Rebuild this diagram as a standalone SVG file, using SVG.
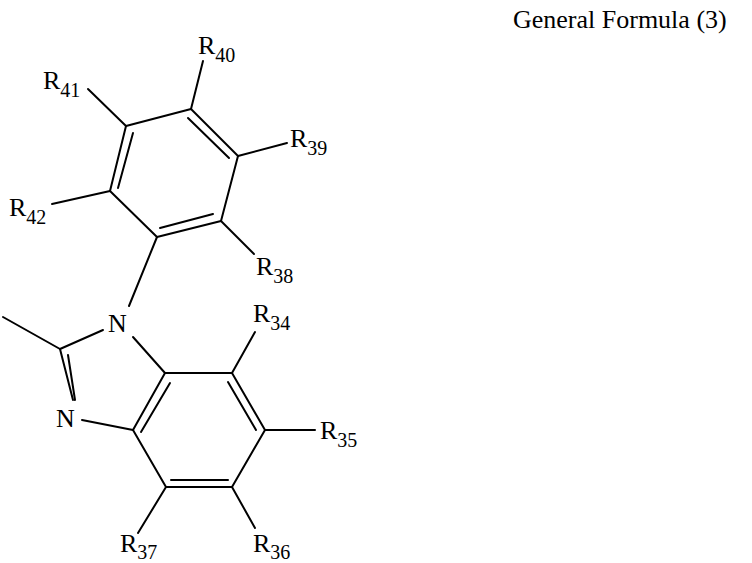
<svg xmlns="http://www.w3.org/2000/svg" width="752" height="563" viewBox="0 0 752 563">
<style>
line{stroke:#000;stroke-width:2;stroke-linecap:round}
text{font-family:"Liberation Serif",serif;font-size:26px;fill:#000}
.s{font-size:20px}
</style>
<rect width="752" height="563" fill="#fff"/>
<text x="513" y="28" font-size="25">General Formula (3)</text>
<g id="bonds">
<line x1="126" y1="126" x2="191" y2="109"/>
<line x1="191" y1="109" x2="238" y2="156"/>
<line x1="188" y1="118" x2="229" y2="158"/>
<line x1="238" y1="156" x2="221" y2="221"/>
<line x1="221" y1="221" x2="157" y2="237"/>
<line x1="213" y1="214" x2="160" y2="228"/>
<line x1="157" y1="237" x2="110" y2="191"/>
<line x1="110" y1="191" x2="126" y2="126"/>
<line x1="133" y1="133" x2="118" y2="188"/>
<line x1="126" y1="126" x2="88" y2="89"/>
<line x1="191" y1="109" x2="203" y2="61"/>
<line x1="238" y1="156" x2="287" y2="143"/>
<line x1="110" y1="191" x2="52" y2="204"/>
<line x1="221" y1="221" x2="254" y2="254"/>
<line x1="157" y1="237" x2="129" y2="306"/>
<line x1="3" y1="317" x2="60" y2="349"/>
<line x1="60" y1="349" x2="103" y2="330"/>
<line x1="60" y1="349" x2="73" y2="400"/>
<line x1="68" y1="355" x2="75" y2="400"/>
<line x1="82" y1="420" x2="133" y2="430"/>
<line x1="133" y1="337" x2="165" y2="373"/>
<line x1="165" y1="373" x2="232" y2="373"/>
<line x1="232" y1="373" x2="265" y2="430"/>
<line x1="228" y1="382" x2="256" y2="430"/>
<line x1="265" y1="430" x2="232" y2="487"/>
<line x1="232" y1="487" x2="166" y2="487"/>
<line x1="171" y1="480" x2="228" y2="480"/>
<line x1="166" y1="487" x2="133" y2="430"/>
<line x1="133" y1="430" x2="165" y2="373"/>
<line x1="141" y1="432" x2="170" y2="383"/>
<line x1="232" y1="373" x2="255" y2="332"/>
<line x1="265" y1="430" x2="315" y2="430"/>
<line x1="232" y1="487" x2="255" y2="528"/>
<line x1="166" y1="487" x2="138" y2="533"/>
</g>
<g id="labels">
<text x="108" y="332">N</text>
<text x="56" y="427">N</text>
<text x="198" y="54">R<tspan class="s" dy="8">40</tspan></text>
<text x="43" y="89">R<tspan class="s" dy="8">41</tspan></text>
<text x="290" y="147">R<tspan class="s" dy="8">39</tspan></text>
<text x="9" y="216">R<tspan class="s" dy="8">42</tspan></text>
<text x="256" y="275">R<tspan class="s" dy="8">38</tspan></text>
<text x="253" y="322">R<tspan class="s" dy="8">34</tspan></text>
<text x="320" y="439">R<tspan class="s" dy="8">35</tspan></text>
<text x="120" y="552">R<tspan class="s" dy="7">37</tspan></text>
<text x="253" y="552">R<tspan class="s" dy="7">36</tspan></text>
</g>
</svg>
